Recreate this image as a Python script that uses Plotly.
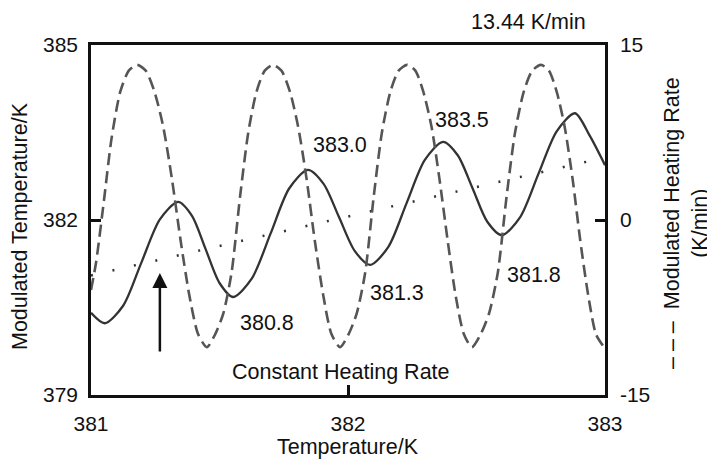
import plotly.graph_objects as go

# Modulated heating rate (right axis, K/min) - dashed
rate_x = [381.000, 381.020, 381.050, 381.080, 381.114, 381.147, 381.179,
          381.213, 381.247, 381.281, 381.315, 381.349, 381.383, 381.417, 381.451,
          381.483, 381.515, 381.547, 381.580, 381.612, 381.644, 381.676, 381.708,
          381.741, 381.774, 381.806, 381.839, 381.871, 381.904, 381.936, 381.969,
          382.002, 382.034, 382.067, 382.100, 382.132, 382.165, 382.197, 382.230,
          382.262, 382.293, 382.325, 382.356, 382.388, 382.419, 382.451, 382.482,
          382.516, 382.549, 382.583, 382.617, 382.650, 382.684, 382.717, 382.751,
          382.782, 382.812, 382.843, 382.874, 382.904, 382.935, 382.965, 382.996]
rate_y = [-6.0, -3.6, 1.6, 7.0, 11.0, 12.8, 13.3,
          12.8, 11.0, 8.0, 3.5, -1.8, -6.5, -9.8, -10.9,
          -9.8, -8.0, -4.5, 2.0, 7.5, 11.0, 12.8, 13.3,
          12.8, 11.0, 8.0, 3.5, -1.8, -6.5, -9.8, -10.9,
          -9.8, -8.0, -4.5, 2.0, 7.5, 11.0, 12.8, 13.3,
          12.8, 11.0, 8.0, 3.5, -1.8, -6.5, -9.8, -10.9,
          -9.8, -8.0, -4.5, 2.0, 7.5, 11.0, 12.8, 13.3,
          12.8, 11.0, 8.0, 3.5, -1.8, -6.5, -9.8, -10.9]

# Modulated temperature (left axis, K) - solid
temp_x = [381.000, 381.054, 381.125, 381.196, 381.268, 381.339,
          381.393, 381.446, 381.500, 381.553,
          381.626, 381.699, 381.771, 381.844,
          381.905, 381.965, 382.026, 382.086,
          382.157, 382.228, 382.299, 382.370,
          382.427, 382.485, 382.542, 382.599,
          382.670, 382.741, 382.812, 382.883,
          382.940, 383.000]
temp_y = [380.41, 380.23, 380.53, 381.27, 382.01, 382.31,
          382.07, 381.50, 380.92, 380.68,
          381.00, 381.77, 382.54, 382.86,
          382.62, 382.05, 381.47, 381.23,
          381.54, 382.29, 383.03, 383.34,
          383.11, 382.54, 381.97, 381.74,
          382.05, 382.79, 383.52, 383.83,
          383.45, 382.94]

# Constant heating rate (underlying linear ramp) - dotted
ramp_x = [381.00, 382.95]
ramp_y = [381.05, 383.02]

x_ticks = [381, 382, 383]
y_ticks = [379, 382, 385]
y2_ticks = [-15, 0, 15]
y2_ticktext = ["-15", "0", "15"]

labels = ["380.8", "381.3", "381.8", "383.0", "383.5"]
label_x = [381.683, 382.189, 382.724, 381.969, 382.444]
label_y = [380.23, 380.75, 381.06, 383.29, 383.71]

FONT = "Liberation Sans, Arial, sans-serif"
fs = 21
fa = 21.5

# page offset (body margin) of 8 px is compensated in the margins
L, T, PW, PH = 91, 45, 514, 350

fig = go.Figure()
fig.add_trace(go.Scatter(x=rate_x, y=rate_y, yaxis="y2", mode="lines",
                         line=dict(color="#555555", width=2.6, dash="12px,6px",
                                   shape="spline", smoothing=0.7),
                         showlegend=False))
fig.add_trace(go.Scatter(x=ramp_x, y=ramp_y, mode="lines",
                         line=dict(color="#333333", width=2.5, dash="2px,20px"),
                         showlegend=False))
fig.add_trace(go.Scatter(x=temp_x, y=temp_y, mode="lines",
                         line=dict(color="#333333", width=2.3, shape="spline", smoothing=0.8),
                         showlegend=False))


def px(xp):
    return (xp - L) / PW


def py(yp):
    return (T + PH - yp) / PH


ann = []
for t, xx, yy in zip(labels, label_x, label_y):
    ann.append(dict(x=xx, y=yy, xref="x", yref="y", text=t, showarrow=False,
                    font=dict(size=fa, color="#111"), xanchor="center", yanchor="middle"))
ann += [
    dict(x=381.268, y=381.09, xref="x", yref="y", ax=381.268, ay=379.72,
         axref="x", ayref="y", text="", showarrow=True, arrowhead=2, arrowsize=1.2,
         arrowwidth=2.5, arrowcolor="#111"),
    dict(x=px(341), y=py(372), xref="paper", yref="paper",
         text="Constant Heating Rate", showarrow=False, font=dict(size=fa, color="#111"),
         xanchor="center", yanchor="middle"),
    dict(x=px(528.5), y=py(22), xref="paper", yref="paper",
         text="13.44 K/min", showarrow=False, font=dict(size=fa, color="#111"),
         xanchor="center", yanchor="middle"),
    dict(x=px(348), y=py(447), xref="paper", yref="paper",
         text="Temperature/K", showarrow=False, font=dict(size=fa, color="#111"),
         xanchor="center", yanchor="middle"),
    dict(x=px(20), y=py(226), xref="paper", yref="paper",
         text="Modulated Temperature/K", showarrow=False, textangle=-90,
         font=dict(size=fa, color="#111"), xanchor="center", yanchor="middle"),
    dict(x=px(686), y=py(223), xref="paper", yref="paper",
         text="– – –  Modulated Heating Rate<br>(K/min)", showarrow=False, textangle=-90,
         font=dict(size=fa, color="#111"), xanchor="center", yanchor="middle"),
]

axis_common = dict(showline=True, linecolor="#111", linewidth=2.5, ticks="inside",
                   ticklen=10, tickwidth=2.5, tickcolor="#111", showgrid=False,
                   zeroline=False, tickfont=dict(size=fs, color="#111", family=FONT))

fig.update_layout(
    width=707, height=452,
    margin=dict(l=L - 8, r=707 - (L - 8) - PW, t=T - 8, b=452 - (T - 8) - PH),
    paper_bgcolor="white", plot_bgcolor="white",
    font=dict(family=FONT, size=fs, color="#111"),
    xaxis=dict(range=[381, 383], tickvals=x_ticks, mirror=True,
               ticklabelstandoff=8, **axis_common),
    yaxis=dict(range=[379, 385], tickvals=y_ticks, mirror=True,
               ticklabelstandoff=6, **axis_common),
    yaxis2=dict(range=[-15, 15], tickvals=y2_ticks, ticktext=y2_ticktext,
                overlaying="y", side="right", ticklabelstandoff=8, **axis_common),
    annotations=ann,
)

fig.write_html("out.html")
